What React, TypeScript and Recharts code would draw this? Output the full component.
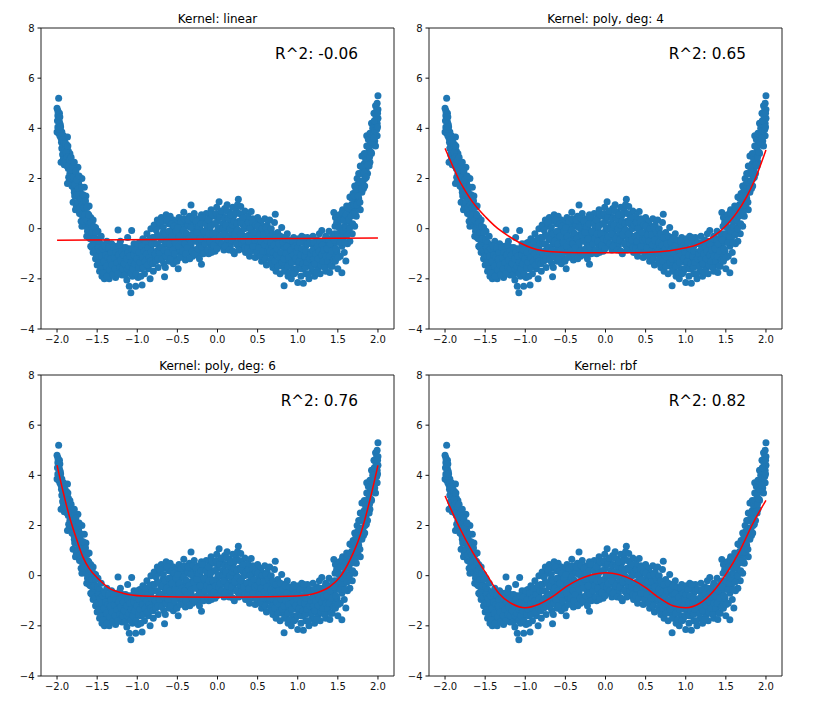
import React from "react";
import { ScatterChart, Scatter, XAxis, YAxis, ReferenceArea, ReferenceDot } from "recharts";

// samples, split by region of the curve
const leftArm: [number, number][] = [
  [-2.0, 4.8], [-1.99, 4.7], [-1.98, 5.2], [-1.99, 4.5], [-1.98, 4.4], [-1.97, 4.6], [-1.97, 4.25], [-2.0, 3.85],
  [-1.99, 4.05], [-1.96, 3.9], [-1.98, 3.8], [-1.96, 4.15],
  [-1.95, 3.6], [-1.94, 3.85], [-1.93, 3.5], [-1.94, 3.2], [-1.92, 3.7], [-1.91, 3.3], [-1.93, 2.95], [-1.95, 2.65],
  [-1.92, 2.8], [-1.9, 3.6], [-1.9, 3.05], [-1.91, 2.55],
  [-1.89, 2.9], [-1.88, 3.35], [-1.87, 3.65], [-1.88, 2.6], [-1.86, 3.1], [-1.86, 2.4], [-1.85, 2.75], [-1.84, 3.0],
  [-1.84, 2.2], [-1.87, 1.8], [-1.85, 1.85], [-1.83, 2.5],
  [-1.82, 2.7], [-1.81, 2.35], [-1.8, 1.95], [-1.8, 1.05], [-1.79, 1.6], [-1.78, 2.4], [-1.78, 1.3], [-1.77, 1.9],
  [-1.76, 2.15], [-1.76, 0.9], [-1.75, 1.55], [-1.74, 2.45], [-1.77, 0.75],
  [-1.73, 1.2], [-1.73, 1.8], [-1.72, 0.6], [-1.71, 1.45], [-1.7, 0.95], [-1.7, 0.3], [-1.69, 2.0], [-1.69, 0.1],
  [-1.68, 1.2], [-1.67, 0.7], [-1.66, 1.65], [-1.66, 0.4],
  [-1.65, 0.95], [-1.64, 0.1], [-1.64, 1.3], [-1.63, -0.3], [-1.62, 0.6], [-1.61, 0.25], [-1.6, 0.9], [-1.6, -0.35],
  [-1.59, -0.05], [-1.58, 0.45], [-1.58, -0.7], [-1.62, -0.1],
  [-1.57, 0.1], [-1.56, -0.45], [-1.55, 0.35], [-1.55, -0.95], [-1.54, -0.2], [-1.53, -0.65], [-1.52, 0.05], [-1.52, -1.2],
  [-1.51, -0.4], [-1.5, -0.85], [-1.5, -1.45], [-1.49, -0.1],
];

const leftArmFill: [number, number][] = [
  [-1.995, 4.3], [-1.985, 4.0], [-1.985, 4.6], [-1.975, 3.95], [-1.965, 4.45], [-1.965, 3.7], [-1.955, 4.05], [-1.945, 3.45],
  [-1.945, 3.7], [-1.935, 3.25], [-1.925, 3.55], [-1.925, 3.0], [-1.915, 3.45], [-1.915, 2.75], [-1.905, 3.15], [-1.895, 2.7],
  [-1.895, 3.4], [-1.885, 3.05], [-1.875, 2.5], [-1.875, 2.85], [-1.865, 3.3], [-1.855, 2.55], [-1.855, 2.05], [-1.845, 2.75],
  [-1.835, 2.35], [-1.825, 2.0], [-1.825, 2.85], [-1.815, 1.7], [-1.805, 2.45], [-1.795, 2.05], [-1.785, 1.45], [-1.785, 2.65],
  [-1.775, 1.75], [-1.765, 2.3], [-1.755, 1.35], [-1.755, 1.95], [-1.745, 1.05], [-1.735, 1.6], [-1.725, 2.1], [-1.725, 1.35],
  [-1.715, 0.85], [-1.705, 1.2], [-1.695, 1.65], [-1.695, 0.55], [-1.685, 0.95], [-1.675, 1.35], [-1.675, 0.3], [-1.665, 0.85],
  [-1.655, 0.55], [-1.645, 1.1], [-1.635, 0.35], [-1.625, 0.85], [-1.615, 0.0], [-1.605, 0.55], [-1.595, 0.2], [-1.585, -0.4],
  [-1.575, 0.25], [-1.565, -0.15], [-1.565, -0.75], [-1.545, 0.1], [-1.535, -0.4], [-1.525, -0.85], [-1.515, -0.15],
  [-1.505, -1.1], [-1.495, -0.45],
];

const leftDip: [number, number][] = [
  [-1.48, -1.1], [-1.47, -0.55], [-1.47, -1.7], [-1.46, -1.35], [-1.45, -0.3], [-1.45, -0.9], [-1.44, -1.9], [-1.43, -1.55],
  [-1.42, -0.65], [-1.42, -1.15], [-1.41, -2.0], [-1.4, -1.4], [-1.4, -0.95],
  [-1.39, -1.75], [-1.38, -0.5], [-1.38, -1.2], [-1.37, -0.85], [-1.36, -1.55], [-1.35, -2.0], [-1.34, -1.0], [-1.33, -1.35],
  [-1.32, -0.6], [-1.32, -1.8], [-1.31, -1.15], [-1.3, -1.6], [-1.3, -0.9],
  [-1.29, -1.4], [-1.28, -0.7], [-1.27, -1.95], [-1.26, -1.1], [-1.25, -1.6], [-1.24, -0.05], [-1.24, -0.85], [-1.23, -1.3],
  [-1.22, -1.8], [-1.21, -0.5], [-1.2, -1.05], [-1.2, -1.5],
  [-1.19, -1.85], [-1.18, -0.75], [-1.17, -1.25], [-1.16, -1.65], [-1.15, -0.95], [-1.14, -1.45], [-1.13, -2.05], [-1.12, -0.35],
  [-1.12, -1.1], [-1.11, -1.75], [-1.1, -2.3], [-1.1, -0.8], [-1.1, -1.35],
  [-1.08, -2.55], [-1.08, -1.55], [-1.07, -0.07], [-1.07, -1.0], [-1.06, -1.9], [-1.05, -1.25], [-1.04, -0.6], [-1.03, -1.65],
  [-1.02, -2.3], [-1.01, -1.1], [-1.0, -1.4], [-1.0, -0.75], [-0.99, -1.95],
  [-0.98, -1.2], [-0.97, -0.55], [-0.96, -1.6], [-0.95, -0.9], [-0.94, -2.25], [-0.94, -1.35], [-0.93, -0.4], [-0.92, -1.05],
  [-0.91, -1.8], [-0.9, -0.7], [-0.9, -1.45], [-0.89, -1.2],
  [-0.88, -0.2], [-0.87, -0.95], [-0.86, -1.6], [-0.85, -0.55], [-0.85, -1.25], [-0.84, -2.0], [-0.83, 0.0], [-0.83, -0.8],
  [-0.82, -1.4], [-0.81, -0.35], [-0.8, -1.1], [-0.8, -1.7],
];

const leftDipFill: [number, number][] = [
  [-1.485, -0.75], [-1.475, -1.35], [-1.465, -0.9], [-1.455, -1.6], [-1.445, -1.1], [-1.435, -0.8], [-1.425, -1.75],
  [-1.415, -1.3], [-1.405, -0.7], [-1.395, -1.05], [-1.385, -1.5], [-1.375, -1.9], [-1.365, -1.15], [-1.355, -0.75],
  [-1.345, -1.65], [-1.335, -1.2], [-1.325, -0.95], [-1.315, -1.45], [-1.305, -1.85], [-1.295, -0.75], [-1.285, -1.15],
  [-1.275, -1.6], [-1.265, -0.95], [-1.255, -1.35], [-1.245, -1.8], [-1.235, -1.05], [-1.225, -0.65], [-1.215, -1.55],
  [-1.205, -1.25], [-1.195, -0.9], [-1.185, -1.6], [-1.175, -1.05], [-1.165, -1.4], [-1.155, -1.85], [-1.145, -0.75],
  [-1.135, -1.2], [-1.125, -1.6], [-1.115, -0.95], [-1.105, -1.5], [-1.095, -1.1], [-1.085, -1.8], [-1.075, -1.35],
  [-1.065, -0.8], [-1.055, -1.6], [-1.045, -1.05], [-1.035, -1.4], [-1.025, -0.85], [-1.015, -1.8], [-1.005, -1.2],
  [-0.995, -0.6], [-0.985, -1.55], [-0.975, -0.95], [-0.965, -1.35], [-0.955, -1.9], [-0.945, -0.7], [-0.935, -1.15],
  [-0.925, -1.55], [-0.915, -0.9], [-0.905, -1.3], [-0.895, -0.5], [-0.885, -1.0], [-0.875, -1.45], [-0.865, -0.75],
  [-0.855, -1.15], [-0.845, -0.4], [-0.835, -1.3], [-0.825, -0.9], [-0.815, -0.6], [-0.805, -1.4],
];

const hump: [number, number][] = [
  [-0.79, 0.15], [-0.78, -0.6], [-0.77, -1.3], [-0.76, -0.9], [-0.75, 0.35], [-0.75, -0.25], [-0.74, -1.55], [-0.73, -0.7],
  [-0.72, 0.1], [-0.71, -1.1], [-0.7, -0.45], [-0.7, 0.45],
  [-0.69, -0.95], [-0.68, -0.15], [-0.67, -1.4], [-0.66, -1.92], [-0.66, 0.3], [-0.65, -1.55], [-0.65, -0.6], [-0.64, 0.55],
  [-0.63, -1.15], [-0.62, -0.3], [-0.61, 0.2], [-0.6, -0.8], [-0.6, -1.3],
  [-0.59, 0.5], [-0.58, -0.5], [-0.57, -1.05], [-0.56, 0.0], [-0.55, -1.4], [-0.55, 0.35], [-0.54, -0.7], [-0.53, -0.2],
  [-0.52, -1.2], [-0.51, 0.25], [-0.5, -0.9], [-0.5, -0.4],
  [-0.49, -1.6], [-0.48, 0.45], [-0.47, -0.1], [-0.46, -0.65], [-0.45, -1.05], [-0.44, 0.15], [-0.43, -0.35], [-0.42, 0.65],
  [-0.41, -0.8], [-0.4, -0.15], [-0.4, -1.25], [-0.39, 0.3],
  [-0.38, -0.55], [-0.37, 0.1], [-0.36, -0.95], [-0.35, 0.5], [-0.34, -0.25], [-0.33, 0.94], [-0.33, -0.7], [-0.32, 0.25],
  [-0.31, -1.1], [-0.3, -0.05], [-0.3, -0.45], [-0.29, 0.6],
  [-0.28, -0.85], [-0.27, 0.15], [-0.26, -0.3], [-0.25, -1.05], [-0.24, 0.4], [-0.23, -0.6], [-0.22, 0.0], [-0.21, -0.95],
  [-0.2, -1.42], [-0.2, 0.55], [-0.19, -0.2], [-0.18, -0.65],
  [-0.17, 0.3], [-0.16, -0.45], [-0.15, -0.85], [-0.14, 0.6], [-0.13, 0.05], [-0.12, -0.3], [-0.11, -1.0], [-0.1, 0.4],
  [-0.1, -0.6], [-0.09, -0.1], [-0.08, 0.75], [-0.07, -0.75],
  [-0.06, 0.2], [-0.05, -0.4], [-0.04, 0.5], [-0.03, -0.9], [-0.02, -0.15], [-0.01, 0.85], [0.0, -0.55], [0.0, 0.3],
  [0.01, -0.25], [0.02, 1.07], [0.03, 0.0], [0.04, -0.7],
  [0.05, 0.55], [0.06, -0.35], [0.07, 0.2], [0.08, -0.85], [0.09, 0.8], [0.1, -0.1], [0.1, 0.45], [0.11, -0.55],
  [0.12, 0.95], [0.13, 0.1], [0.14, -0.3], [0.15, 0.65],
  [0.16, -0.7], [0.17, 0.3], [0.18, -0.15], [0.19, 0.85], [0.2, -0.5], [0.2, 0.5], [0.21, -1.0], [0.22, 0.05],
  [0.23, 0.7], [0.24, -0.3], [0.25, 0.95], [0.25, -0.65],
  [0.26, 1.17], [0.27, 0.3], [0.28, -0.45], [0.29, 0.88], [0.3, -0.1], [0.3, 0.55], [0.31, -0.8], [0.32, 0.15],
  [0.33, -0.3], [0.34, 0.7], [0.35, -0.95], [0.35, 0.35],
  [0.36, -0.55], [0.37, 0.05], [0.38, 0.5], [0.39, -0.25], [0.4, -1.1], [0.41, 0.25], [0.42, 0.68], [0.42, -0.7],
  [0.43, -0.05], [0.44, 0.4], [0.45, -0.45], [0.46, 0.1],
  [0.47, -1.15], [0.47, -0.8], [0.48, 0.3], [0.49, -0.2], [0.5, 0.45], [0.5, -0.6], [0.51, -1.0], [0.52, 0.0],
  [0.53, -0.35], [0.54, 0.3], [0.55, -0.8], [0.55, -1.3],
  [0.56, 0.1], [0.57, -0.5], [0.58, -1.1], [0.59, 0.4], [0.6, -0.2], [0.6, -0.8], [0.61, -1.45], [0.62, 0.15],
  [0.63, -0.6], [0.64, -1.0], [0.65, -0.3], [0.65, 0.35],
];

const humpFill: [number, number][] = [
  [-0.785, -0.35], [-0.775, -1.0], [-0.765, -0.05], [-0.755, -0.6], [-0.745, -1.2], [-0.735, -0.3], [-0.725, -0.95],
  [-0.715, 0.25], [-0.705, -0.75], [-0.695, -1.25], [-0.685, -0.4], [-0.675, 0.05], [-0.665, -0.85], [-0.655, -0.2],
  [-0.645, -1.1], [-0.635, -0.5], [-0.625, 0.35], [-0.615, -0.95], [-0.605, -0.1], [-0.595, -0.6], [-0.585, -1.2],
  [-0.575, 0.2], [-0.565, -0.3], [-0.555, -0.85], [-0.545, 0.1], [-0.535, -1.0], [-0.525, -0.55], [-0.515, -0.1],
  [-0.505, -1.3], [-0.495, 0.05], [-0.485, -0.7], [-0.475, -0.3], [-0.465, -1.15], [-0.455, 0.3], [-0.445, -0.5],
  [-0.435, -0.9], [-0.425, -0.05], [-0.415, 0.4], [-0.405, -0.6], [-0.395, -1.0], [-0.385, -0.2], [-0.375, -0.75],
  [-0.365, 0.35], [-0.355, -0.4], [-0.345, -1.2], [-0.335, 0.05], [-0.325, -0.55], [-0.315, -0.9], [-0.305, 0.4],
  [-0.295, -0.25], [-0.285, -1.0], [-0.275, -0.5], [-0.265, 0.3], [-0.255, -0.15], [-0.245, -0.8], [-0.235, 0.1],
  [-0.225, -1.2], [-0.215, -0.4], [-0.205, 0.2], [-0.195, -0.75], [-0.185, 0.45], [-0.175, -1.0], [-0.165, -0.1],
  [-0.155, -0.6], [-0.145, 0.2], [-0.135, -0.4], [-0.125, -0.85], [-0.115, 0.35], [-0.105, -0.2], [-0.095, -0.5],
  [-0.085, 0.1], [-0.075, -0.95], [-0.065, 0.55], [-0.055, -0.2], [-0.045, -0.65], [-0.035, 0.2], [-0.025, -0.4],
  [-0.015, 0.6], [-0.005, -0.8], [0.005, 0.05], [0.015, -0.45], [0.025, 0.45], [0.035, -0.3], [0.045, 0.7],
  [0.055, -0.6], [0.065, 0.0], [0.075, -0.2], [0.085, 0.4], [0.095, -0.7], [0.105, 0.15], [0.115, 0.7], [0.125, -0.4],
  [0.135, 0.4], [0.145, -0.85], [0.155, 0.0], [0.165, 0.55], [0.175, -0.45], [0.185, 0.15], [0.195, -0.9], [0.205, 0.3],
  [0.215, -0.25], [0.225, 0.6], [0.235, -0.6], [0.245, 0.2], [0.255, -0.05], [0.265, -0.85], [0.275, 0.6], [0.285, -0.2],
  [0.295, 0.25], [0.305, -0.6], [0.315, 0.45], [0.325, -0.45], [0.335, 0.0], [0.345, -0.75], [0.355, 0.15], [0.365, -0.3],
  [0.375, -0.8], [0.385, 0.25], [0.395, -0.5], [0.405, 0.0], [0.415, -0.9], [0.425, -0.3], [0.435, 0.3], [0.445, -0.7],
  [0.455, -0.15], [0.465, -0.45], [0.475, 0.15], [0.485, -0.95], [0.495, -0.4], [0.505, 0.1], [0.515, -0.75],
  [0.525, -0.25], [0.535, -1.1], [0.545, -0.5], [0.555, 0.0], [0.565, -0.9], [0.575, -0.25], [0.585, -0.65],
  [0.595, -1.2], [0.605, 0.05], [0.615, -0.45], [0.625, -0.9], [0.635, -0.15], [0.645, -0.75],
];

const rightDip: [number, number][] = [
  [0.66, -1.25], [0.67, 0.0], [0.68, -0.75], [0.69, -1.55], [0.7, -0.4], [0.7, -1.1], [0.71, 0.25], [0.72, 0.57],
  [0.72, -0.9], [0.73, -1.7], [0.74, -0.6], [0.75, -1.35], [0.75, -0.15],
  [0.76, -1.0], [0.77, -0.45], [0.78, -1.8], [0.79, -1.25], [0.8, -0.7], [0.8, 0.05], [0.81, -1.5], [0.82, -0.35],
  [0.83, -2.28], [0.83, -1.05], [0.84, -0.8], [0.85, -1.65], [0.85, -0.5],
  [0.86, -1.3], [0.87, -0.2], [0.88, -1.9], [0.89, -0.9], [0.9, -1.45], [0.9, -0.55], [0.91, -1.15], [0.92, -2.0],
  [0.93, -0.75], [0.94, -1.6], [0.95, -0.35], [0.95, -1.25],
  [0.96, -0.95], [0.97, -1.75], [0.98, -0.6], [0.99, -1.35], [1.0, -2.15], [1.0, -1.05], [1.01, -0.4], [1.02, -1.55],
  [1.03, -0.8], [1.04, -1.9], [1.05, -1.2], [1.05, -0.3],
  [1.06, -1.6], [1.07, -2.18], [1.07, -0.9], [1.08, -0.55], [1.09, -1.35], [1.1, -1.8], [1.1, -0.7], [1.11, -1.1],
  [1.12, -0.35], [1.13, -1.5], [1.14, -2.0], [1.15, -0.95],
  [1.16, -1.3], [1.17, -0.6], [1.18, -1.7], [1.19, -0.3], [1.2, -1.0], [1.2, -1.45], [1.21, -1.9], [1.22, -0.75],
  [1.23, -1.2], [1.24, -0.45], [1.25, -1.6], [1.25, -0.95],
  [1.26, -1.35], [1.27, -0.2], [1.28, -1.8], [1.29, -0.8], [1.3, -0.07], [1.3, -1.1], [1.31, -1.5], [1.32, -0.5],
  [1.33, -1.25], [1.34, -0.9], [1.35, -1.7], [1.35, -0.3],
  [1.36, -1.05], [1.37, -0.6], [1.38, -1.45], [1.39, -0.1], [1.4, -0.85], [1.4, -1.75], [1.41, -1.2], [1.42, -0.4],
  [1.43, -1.5], [1.44, -0.7], [1.45, 0.64], [1.45, -1.0],
];

const rightDipFill: [number, number][] = [
  [0.655, -0.9], [0.665, -0.55], [0.675, -1.4], [0.685, -0.2], [0.695, -0.95], [0.705, -0.65], [0.715, -1.3], [0.725, -0.35],
  [0.735, -1.05], [0.745, -0.8], [0.755, -1.5], [0.765, -0.6], [0.775, -1.15], [0.785, -0.3], [0.795, -0.95], [0.805, -1.35],
  [0.815, -0.55], [0.825, -1.2], [0.835, -1.7], [0.845, -0.4], [0.855, -1.0], [0.865, -0.7], [0.875, -1.5], [0.885, -1.15],
  [0.895, -0.45], [0.905, -1.75], [0.915, -0.85], [0.925, -1.35], [0.935, -0.5], [0.945, -1.05], [0.955, -1.8], [0.965, -0.7],
  [0.975, -1.2], [0.985, -0.9], [0.995, -1.6], [1.005, -0.75], [1.015, -1.3], [1.025, -0.55], [1.035, -1.05], [1.045, -1.6],
  [1.055, -0.8], [1.065, -1.4], [1.075, -0.35], [1.085, -1.1], [1.095, -1.55], [1.105, -0.9], [1.115, -1.35], [1.125, -0.6],
  [1.135, -1.8], [1.145, -1.2], [1.155, -0.55], [1.165, -1.0], [1.175, -1.5], [1.185, -0.85], [1.195, -1.2], [1.205, -0.55],
  [1.215, -1.4], [1.225, -1.0], [1.235, -1.75], [1.245, -0.7], [1.255, -1.2], [1.265, -0.9], [1.275, -0.5], [1.285, -1.45],
  [1.295, -1.05], [1.305, -0.65], [1.315, -1.3], [1.325, -0.85], [1.335, -1.55], [1.345, -0.4], [1.355, -1.1], [1.365, -0.8],
  [1.375, -1.3], [1.385, -0.45], [1.395, -1.1], [1.405, -0.6], [1.415, -1.5], [1.425, -0.9], [1.435, -0.25], [1.445, -1.25],
];

const rightArm: [number, number][] = [
  [1.46, -0.2], [1.47, -1.3], [1.47, 0.45], [1.48, -0.55], [1.49, -0.9], [1.5, 0.2], [1.5, -1.6], [1.51, -0.35],
  [1.52, 0.55], [1.53, -1.1], [1.54, -0.05], [1.55, -1.76], [1.55, -0.7], [1.55, 0.35],
  [1.56, 0.75], [1.57, -0.4], [1.58, 0.1], [1.58, -0.95], [1.59, 0.5], [1.6, -1.29], [1.6, -0.2], [1.61, 0.9],
  [1.62, 0.3], [1.62, -0.6], [1.63, -0.1], [1.64, 0.65], [1.65, 1.26], [1.65, -0.5],
  [1.66, 0.2], [1.67, 0.95], [1.68, -0.2], [1.68, 0.55], [1.69, 1.4], [1.7, 0.8], [1.71, 0.1], [1.71, 1.7],
  [1.72, 1.15], [1.73, 0.5], [1.74, 2.0], [1.74, 1.4], [1.75, 0.85],
  [1.76, 2.2], [1.76, 1.2], [1.77, 1.65], [1.78, 0.75], [1.78, 2.5], [1.79, 1.9], [1.8, 1.45], [1.8, 2.9],
  [1.81, 2.2], [1.82, 1.6], [1.83, 2.6], [1.83, 3.0], [1.84, 2.0], [1.85, 2.35],
  [1.86, 3.3], [1.86, 2.7], [1.86, 3.7], [1.87, 2.2], [1.88, 3.55], [1.88, 2.9], [1.89, 3.2], [1.89, 2.5],
  [1.9, 3.8], [1.9, 2.65], [1.91, 3.45], [1.92, 4.2], [1.92, 3.0], [1.93, 3.7],
  [1.94, 3.35], [1.94, 4.1], [1.95, 4.6], [1.95, 3.8], [1.96, 3.5], [1.96, 4.3], [1.97, 4.0], [1.97, 4.9],
  [1.97, 3.3], [1.98, 4.5], [1.99, 5.0], [1.99, 4.2], [1.99, 3.7], [2.0, 5.3], [2.0, 4.75], [2.0, 4.4],
];

const rightArmFill: [number, number][] = [
  [1.455, -0.45], [1.465, 0.1], [1.475, -0.8], [1.485, 0.25], [1.495, -0.2], [1.505, -1.15], [1.515, 0.05], [1.525, -0.55],
  [1.535, 0.35], [1.545, -0.3], [1.555, 0.65], [1.565, -0.1], [1.575, 0.35], [1.585, -0.55], [1.595, 0.05], [1.605, 0.55],
  [1.615, -0.25], [1.625, 0.8], [1.635, 0.35], [1.645, 0.0], [1.655, 0.9], [1.665, 0.5], [1.675, 1.2], [1.685, 0.2],
  [1.695, 0.95], [1.705, 1.3], [1.715, 0.6], [1.725, 1.55], [1.735, 0.95], [1.745, 1.75], [1.755, 1.3], [1.765, 1.85],
  [1.775, 1.05], [1.785, 2.2], [1.795, 1.6], [1.805, 2.45], [1.815, 1.9], [1.825, 2.25], [1.835, 1.7], [1.845, 2.8],
  [1.855, 2.05], [1.865, 3.0], [1.875, 2.55], [1.885, 3.25], [1.895, 2.85], [1.905, 3.5], [1.915, 3.05], [1.925, 3.45],
  [1.935, 4.0], [1.945, 3.6], [1.955, 4.3], [1.965, 3.9], [1.975, 4.5], [1.985, 3.95], [1.985, 4.75], [1.995, 4.6],
  [1.995, 4.05],
];

// fitted curves
const linearFit: [number, number][] = [[-2.0, -0.46], [2.0, -0.37]];

const poly4Fit: [number, number][] = [
  [-2.0, 3.2], [-1.91, 2.54], [-1.825, 1.94], [-1.74, 1.47], [-1.66, 1.08], [-1.575, 0.74], [-1.49, 0.45],
  [-1.37, 0.08], [-1.24, -0.23], [-1.075, -0.55], [-0.91, -0.78], [-0.66, -0.92], [-0.325, -0.96], [0.01, -0.96],
  [0.34, -0.96], [0.675, -0.92], [0.925, -0.81], [1.13, -0.65], [1.34, -0.32], [1.51, 0.15], [1.63, 0.61],
  [1.76, 1.28], [1.86, 1.94], [2.0, 3.14],
];

const poly6Fit: [number, number][] = [
  [-2.0, 4.41], [-1.93, 3.42], [-1.845, 2.35], [-1.76, 1.49], [-1.68, 0.76], [-1.6, 0.29], [-1.47, -0.17],
  [-1.35, -0.5], [-1.18, -0.7], [-0.93, -0.81], [-0.43, -0.85], [-0.01, -0.86], [0.49, -0.85], [0.99, -0.81],
  [1.24, -0.68], [1.4, -0.44], [1.53, -0.04], [1.65, 0.62], [1.78, 1.62], [1.9, 3.02], [2.0, 4.4],
];

const rbfFit: [number, number][] = [
  [-2.0, 3.18], [-1.825, 1.95], [-1.66, 0.96], [-1.49, 0.1], [-1.33, -0.7], [-1.16, -1.13], [-1.0, -1.28],
  [-0.83, -1.14], [-0.66, -0.84], [-0.49, -0.44], [-0.33, -0.15], [-0.16, 0.05], [0.0, 0.12], [0.175, 0.04],
  [0.34, -0.17], [0.51, -0.5], [0.675, -0.9], [0.84, -1.2], [1.0, -1.28], [1.175, -1.1], [1.34, -0.64],
  [1.51, 0.1], [1.675, 1.0], [1.84, 2.1], [2.0, 3.0],
];

const titles = ["Kernel: linear", "Kernel: poly, deg: 4", "Kernel: poly, deg: 6", "Kernel: rbf"];
const scores = ["R^2: -0.06", "R^2: 0.65", "R^2: 0.76", "R^2: 0.82"];
const fits = [linearFit, poly4Fit, poly6Fit, rbfFit];

const xTicks = [-2, -1.5, -1, -0.5, 0, 0.5, 1, 1.5, 2];
const yTicks = [-4, -2, 0, 2, 4, 6, 8];

const BLUE = "#1f77b4";
const INK = "#111";
const FONT = "'DejaVu Sans', sans-serif";

const toPts = (arr: [number, number][]) => arr.map(([x, y]) => ({ x, y }));
const points = toPts([
  ...leftArm, ...leftArmFill, ...leftDip, ...leftDipFill, ...hump, ...humpFill,
  ...rightDip, ...rightDipFill, ...rightArm, ...rightArmFill,
]);

const minus = (s: string) => s.replace("-", "\u2212");
const fmtX = (v: number) => minus(v.toFixed(1));
const fmtY = (v: number) => minus(String(v));

// plot-box origin of each subplot on the page
const boxes = [
  { left: 41, top: 28 },
  { left: 429, top: 28 },
  { left: 41, top: 375 },
  { left: 429, top: 375 },
];
const PW = 353;
const PH = 301;

const Dot = (p: any) => <circle cx={p.cx} cy={p.cy} r={3.5} fill={BLUE} />;
const NoDot = () => <g />;

function Panel({ i }: { i: number }) {
  const { left, top } = boxes[i];
  const tick = { fontSize: 10, fill: INK, fontFamily: FONT };
  return (
    <div style={{ position: "absolute", left: left - 40, top: top - 28 }}>
      <ScatterChart width={PW + 52} height={PH + 56} margin={{ top: 28, right: 12, bottom: 3, left: 10 }}>
        <XAxis
          type="number" dataKey="x" domain={[-2.2, 2.2]} ticks={xTicks} interval={0}
          tickFormatter={fmtX} allowDataOverflow axisLine={false}
          tickLine={{ stroke: INK }} tickSize={3.5} tickMargin={3} height={25} tick={tick}
        />
        <YAxis
          type="number" dataKey="y" domain={[-4, 8]} ticks={yTicks} interval={0}
          tickFormatter={fmtY} allowDataOverflow axisLine={false}
          tickLine={{ stroke: INK }} tickSize={3.5} tickMargin={3} width={30} tick={tick}
        />
        <ReferenceArea x1={-2.2} x2={2.2} y1={-4} y2={8} fill="none" fillOpacity={0} stroke="#222" strokeWidth={1} ifOverflow="visible" />
        <Scatter data={points} shape={Dot} isAnimationActive={false} />
        <Scatter
          data={toPts(fits[i])} shape={NoDot} line={{ stroke: "#ff0000", strokeWidth: 1.5 }}
          lineJointType="monotoneX" isAnimationActive={false}
        />
        <ReferenceDot
          x={0} y={8} r={0} ifOverflow="visible"
          shape={(p: any) => (
            <text x={p.cx} y={p.cy - 5.5} textAnchor="middle" fontSize={12} fontFamily={FONT} fill="#000">
              {titles[i]}
            </text>
          )}
        />
        <ReferenceDot
          x={1.75} y={7} r={0} ifOverflow="visible"
          shape={(p: any) => (
            <text x={p.cx} y={p.cy + 5.5} textAnchor="end" fontSize={15.3} fontFamily={FONT} fill="#000">
              {scores[i]}
            </text>
          )}
        />
      </ScatterChart>
    </div>
  );
}

export default function App() {
  return (
    <div style={{ position: "absolute", left: 0, top: 0, width: 824, height: 712, background: "#fff", overflow: "hidden" }}>
      {[0, 1, 2, 3].map((i) => (
        <Panel key={i} i={i} />
      ))}
    </div>
  );
}
